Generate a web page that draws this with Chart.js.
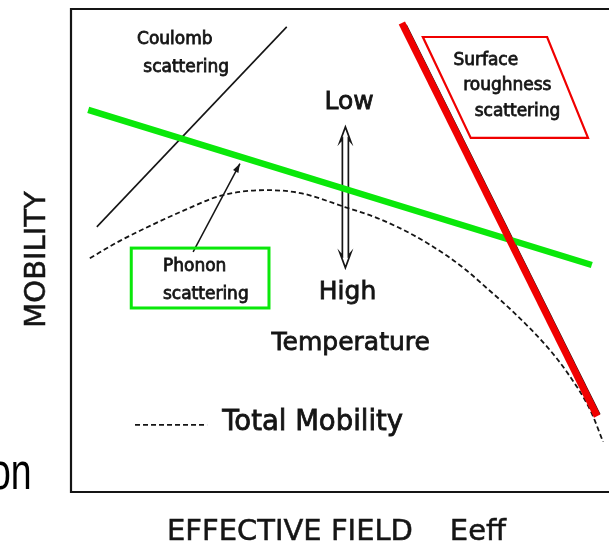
<!DOCTYPE html>
<html><head><meta charset="utf-8">
<script src="https://cdn.jsdelivr.net/npm/chart.js@4"></script>
<style>html,body{margin:0;padding:0;background:#fff;overflow:hidden}#wrap{width:609px;height:546px;position:relative}</style>
</head><body><div id="wrap"><canvas id="c" width="609" height="546"></canvas></div>
<script>
// Effective field (x) and mobility (y), arbitrary units 0..10
const coulombField = [0.48, 4.01];
const coulombMobility = [5.49, 9.63];
const phononField = [0.32, 9.68];
const phononMobility = [7.91, 4.70];
const surfaceField = [6.15, 9.78];
const surfaceMobility = [9.71, 1.57];
const surfaceInkField = [6.23, 9.83];
const surfaceInkMobility = [9.67, 1.61];
const totalField = [0.35, 0.91, 1.47, 2.12, 2.77, 3.61, 4.26, 5.09, 5.74, 6.36, 6.99, 7.36, 7.73, 8.22, 8.87, 9.22, 9.65, 9.89];
const totalMobility = [4.84, 5.20, 5.51, 5.84, 6.13, 6.25, 6.19, 5.90, 5.65, 5.32, 4.89, 4.58, 4.22, 3.73, 2.98, 2.48, 1.70, 1.04];
const xTitle = 'EFFECTIVE FIELD    Eeff';
const yTitle = 'MOBILITY';

function pts(xs, ys){ return xs.map((x,i)=>({x:x, y:ys[i]})); }

const GREEN = 'rgb(10,232,10)';
const RED = 'rgb(240,0,0)';
const INK = '#151515';

const annotations = {
  tempArrow: {x:5.10, y1:7.56, y2:4.64},
  pointer: {x1:2.27, y1:4.97, x2:3.14, y2:6.80},
  phononBox: {x1:1.12, x2:3.68, y1:5.05, y2:3.81},
  surfaceBox: [[6.54,9.42],[8.85,9.42],[9.61,7.33],[7.43,7.33]],
  legendDash: {x1:1.19, x2:2.53, y:1.39}
};
const labels = [
  {t:'Coulomb', x:1.93, y:9.36, size:17, align:'center'},
  {t:'scattering', x:2.14, y:8.78, size:17, align:'center'},
  {t:'Low', x:5.17, y:8.07, size:25, align:'center'},
  {t:'High', x:5.14, y:4.14, size:25, align:'center'},
  {t:'Temperature', x:5.20, y:3.08, size:25, align:'center'},
  {t:'Total Mobility', x:2.81, y:1.43, size:27.5, align:'left'},
  {t:'Phonon', x:1.71, y:4.66, size:17, align:'left'},
  {t:'scattering', x:1.71, y:4.08, size:17, align:'left'},
  {t:'Surface', x:7.71, y:8.94, size:17, align:'center'},
  {t:'roughness', x:8.11, y:8.41, size:17, align:'center'},
  {t:'scattering', x:8.30, y:7.87, size:17, align:'center'}
];

const decor = {
  id:'decor',
  beforeDatasetsDraw(chart){
    const {ctx, chartArea:a, scales:{x, y}} = chart;
    const X = v=>x.getPixelForValue(v), Y = v=>y.getPixelForValue(v);
    ctx.save();
    // frame (left, top, bottom)
    ctx.strokeStyle = INK; ctx.lineWidth = 2.2;
    ctx.beginPath();
    ctx.moveTo(a.right+5, a.top); ctx.lineTo(a.left, a.top); ctx.lineTo(a.left, a.bottom); ctx.lineTo(a.right+5, a.bottom);
    ctx.stroke();
    // double-headed temperature arrow
    const ta = annotations.tempArrow; const cx = X(ta.x), yt = Y(ta.y1), yb = Y(ta.y2);
    ctx.beginPath();
    ctx.moveTo(cx, yt); ctx.lineTo(cx+5.5, yt+15); ctx.lineTo(cx+3, yt+12); ctx.lineTo(cx+3, yb-12);
    ctx.lineTo(cx+5.5, yb-15); ctx.lineTo(cx, yb); ctx.lineTo(cx-5.5, yb-15); ctx.lineTo(cx-3, yb-12);
    ctx.lineTo(cx-3, yt+12); ctx.lineTo(cx-5.5, yt+15); ctx.closePath();
    ctx.fillStyle = '#fff'; ctx.fill(); ctx.lineWidth = 1.7; ctx.stroke();
    // pointer arrow from Phonon box
    const p = annotations.pointer;
    const x1 = X(p.x1), y1 = Y(p.y1), x2 = X(p.x2), y2 = Y(p.y2);
    ctx.lineWidth = 1.5; ctx.beginPath(); ctx.moveTo(x1,y1); ctx.lineTo(x2,y2); ctx.stroke();
    const ang = Math.atan2(y2-y1, x2-x1);
    ctx.beginPath(); ctx.moveTo(x2,y2);
    ctx.lineTo(x2-9*Math.cos(ang)+3*Math.sin(ang), y2-9*Math.sin(ang)-3*Math.cos(ang));
    ctx.lineTo(x2-9*Math.cos(ang)-3*Math.sin(ang), y2-9*Math.sin(ang)+3*Math.cos(ang));
    ctx.closePath(); ctx.fillStyle = INK; ctx.fill();
    // Phonon box
    const b = annotations.phononBox;
    ctx.strokeStyle = GREEN; ctx.lineWidth = 3;
    ctx.strokeRect(X(b.x1), Y(b.y1), X(b.x2)-X(b.x1), Y(b.y2)-Y(b.y1));
    // surface box
    ctx.strokeStyle = RED; ctx.lineWidth = 2.2;
    ctx.beginPath();
    annotations.surfaceBox.forEach((q,i)=>{ i ? ctx.lineTo(X(q[0]),Y(q[1])) : ctx.moveTo(X(q[0]),Y(q[1])); });
    ctx.closePath(); ctx.stroke();
    // legend dash sample
    const d = annotations.legendDash;
    ctx.strokeStyle = INK; ctx.lineWidth = 1.8; ctx.setLineDash([5,3]);
    ctx.beginPath(); ctx.moveTo(X(d.x1), Y(d.y)); ctx.lineTo(X(d.x2), Y(d.y)); ctx.stroke();
    ctx.restore();
  },
  afterDatasetsDraw(chart){
    const {ctx, chartArea:a, scales:{x, y}} = chart;
    const X = v=>x.getPixelForValue(v), Y = v=>y.getPixelForValue(v);
    ctx.save();
    ctx.fillStyle = INK; ctx.strokeStyle = INK; ctx.textBaseline = 'middle';
    labels.forEach(l=>{
      ctx.font = l.size + 'px "DejaVu Sans"';
      ctx.textAlign = l.align;
      ctx.lineWidth = 0.8;
      ctx.fillText(l.t, X(l.x), Y(l.y));
      ctx.strokeText(l.t, X(l.x), Y(l.y));
    });
    // axis titles
    ctx.font = '29px "DejaVu Sans"'; ctx.textAlign = 'left'; ctx.lineWidth = 0.5;
    ctx.fillText(xTitle, 167, a.bottom + 40);
    ctx.strokeText(xTitle, 167, a.bottom + 40);
    ctx.save(); ctx.translate(a.left - 34, (a.top+a.bottom)/2 + 9); ctx.rotate(-Math.PI/2);
    ctx.textAlign = 'center'; ctx.fillText(yTitle, 0, 0); ctx.strokeText(yTitle, 0, 0); ctx.restore();
    // fragment of surrounding slide text
    ctx.save(); ctx.translate(-10, a.bottom - 17); ctx.scale(0.72, 1);
    ctx.font = '52px "Liberation Sans"'; ctx.textAlign = 'left'; ctx.fillStyle = '#000';
    ctx.fillText('on', 0, 0); ctx.restore();
    ctx.restore();
  }
};

new Chart(document.getElementById('c'), {
  type: 'scatter',
  data: { datasets: [
    {label:'Surface roughness', data: pts(surfaceField, surfaceMobility), showLine:true, borderColor:RED, borderWidth:7, pointRadius:0, borderCapStyle:'butt'},
    {label:'Phonon', data: pts(phononField, phononMobility), showLine:true, borderColor:GREEN, borderWidth:6.5, pointRadius:0},
    {label:'Surface ink', data: pts(surfaceInkField, surfaceInkMobility), showLine:true, borderColor:INK, borderWidth:1.5, pointRadius:0},
    {label:'Total mobility', data: pts(totalField, totalMobility), showLine:true, borderColor:INK, borderWidth:1.8, borderDash:[5,3], pointRadius:0, cubicInterpolationMode:'monotone'},
    {label:'Coulomb', data: pts(coulombField, coulombMobility), showLine:true, borderColor:INK, borderWidth:1.6, pointRadius:0}
  ]},
  options: {
    responsive:false, animation:false, devicePixelRatio:1,
    layout:{padding:{left:71, top:9, right:0, bottom:54}},
    plugins:{legend:{display:false}, tooltip:{enabled:false}},
    scales:{
      x:{type:'linear', min:0, max:10, display:false},
      y:{type:'linear', min:0, max:10, display:false}
    }
  },
  plugins:[decor]
});
</script></body></html>
